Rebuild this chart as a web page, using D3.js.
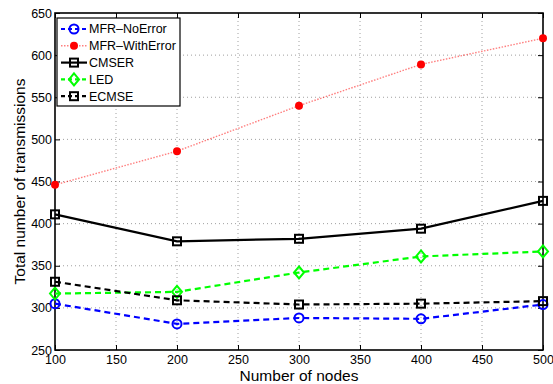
<!DOCTYPE html>
<html>
<head>
<meta charset="utf-8">
<script src="https://cdn.jsdelivr.net/npm/d3@7"></script>
<style>
  body { margin: 0; background: #fff; }
  svg { display: block; font-family: "Liberation Sans", Arial, sans-serif; }
</style>
</head>
<body>
<script>
const width = 553;
const height = 384;

// data
const nodes = [100, 200, 300, 400, 500];
const mfrNoError = [305, 281, 288, 287, 304];
const mfrWithError = [446, 486, 540, 589, 620];
const cmser = [411, 379, 382, 394, 427];
const led = [317, 319, 342, 361, 367];
const ecmse = [331, 309, 304, 305, 308];

const xTicks = [100, 150, 200, 250, 300, 350, 400, 450, 500];
const yTicks = [250, 300, 350, 400, 450, 500, 550, 600, 650];

const series = [
  { name: 'MFR\u2013NoError', values: mfrNoError, color: '#0000ff', dash: '6,4', width: 2.2, marker: 'circle' },
  { name: 'MFR\u2013WithError', values: mfrWithError, color: '#ff0000', dash: '1.5,1.5', width: 1.4, opacity: 0.5, marker: 'dot' },
  { name: 'CMSER', values: cmser, color: '#000000', dash: null, width: 2.2, marker: 'square' },
  { name: 'LED', values: led, color: '#00ff00', dash: '6,4', width: 2.2, marker: 'diamond' },
  { name: 'ECMSE', values: ecmse, color: '#000000', dash: '6,4', width: 2.2, marker: 'square' },
];

const margin = { top: 13, right: 10, bottom: 34, left: 55 };

const x = d3.scaleLinear().domain([100, 500]).range([margin.left, width - margin.right]);
const y = d3.scaleLinear().domain([250, 650]).range([height - margin.bottom, margin.top]);

const svg = d3.select('body').append('svg')
  .attr('width', width)
  .attr('height', height);

// grid
const grid = svg.append('g').attr('stroke', '#888').attr('stroke-width', 0.8).attr('stroke-dasharray', '1,3');
grid.selectAll('.gx').data(xTicks.slice(1, -1)).enter().append('line')
  .attr('x1', d => x(d)).attr('x2', d => x(d))
  .attr('y1', y(250)).attr('y2', y(650));
grid.selectAll('.gy').data(yTicks.slice(1, -1)).enter().append('line')
  .attr('x1', x(100)).attr('x2', x(500))
  .attr('y1', d => y(d)).attr('y2', d => y(d));

// axes (ticks inward, both sides)
const tickLen = 5;
const axB = svg.append('g').attr('transform', `translate(0,${y(250)})`)
  .call(d3.axisBottom(x).tickValues(xTicks).tickSize(-tickLen).tickPadding(5));
const axT = svg.append('g').attr('transform', `translate(0,${y(650)})`)
  .call(d3.axisTop(x).tickValues(xTicks).tickSize(-tickLen).tickFormat(''));
const axL = svg.append('g').attr('transform', `translate(${x(100)},0)`)
  .call(d3.axisLeft(y).tickValues(yTicks).tickSize(-tickLen).tickPadding(3));
const axR = svg.append('g').attr('transform', `translate(${x(500)},0)`)
  .call(d3.axisRight(y).tickValues(yTicks).tickSize(-tickLen).tickFormat(''));

[axB, axT, axL, axR].forEach(a => {
  a.select('.domain').remove();
  a.selectAll('line').attr('stroke', '#000').attr('stroke-width', 1);
  a.selectAll('text').attr('fill', '#000').style('font-size', '12.5px')
    .style('font-family', '"Liberation Sans", Arial, sans-serif');
});

svg.append('rect')
  .attr('x', x(100)).attr('y', y(650))
  .attr('width', x(500) - x(100)).attr('height', y(250) - y(650))
  .attr('fill', 'none').attr('stroke', '#000').attr('stroke-width', 1.6);

// markers
function drawMarker(g, type, color, cx, cy) {
  if (type === 'circle') {
    g.append('circle').attr('cx', cx).attr('cy', cy).attr('r', 4.5)
      .attr('fill', 'none').attr('stroke', color).attr('stroke-width', 2);
  } else if (type === 'dot') {
    g.append('circle').attr('cx', cx).attr('cy', cy).attr('r', 4)
      .attr('fill', color);
  } else if (type === 'square') {
    g.append('rect').attr('x', cx - 4).attr('y', cy - 4).attr('width', 8).attr('height', 8)
      .attr('fill', 'none').attr('stroke', color).attr('stroke-width', 2);
  } else if (type === 'diamond') {
    g.append('path').attr('d', `M${cx},${cy - 6}L${cx + 5},${cy}L${cx},${cy + 6}L${cx - 5},${cy}Z`)
      .attr('fill', 'none').attr('stroke', color).attr('stroke-width', 2);
  }
}

const line = d3.line().x((d, i) => x(nodes[i])).y(d => y(d));

series.forEach(s => {
  const g = svg.append('g');
  g.append('path').datum(s.values)
    .attr('d', line)
    .attr('fill', 'none')
    .attr('stroke', s.color)
    .attr('stroke-width', s.width)
    .attr('stroke-opacity', s.opacity || 1)
    .attr('stroke-dasharray', s.dash);
  s.values.forEach((v, i) => drawMarker(g, s.marker, s.color, x(nodes[i]), y(v)));
});

// legend
const lg = svg.append('g').attr('transform', 'translate(57,18)');
lg.append('rect').attr('width', 123).attr('height', 88)
  .attr('fill', '#fff').attr('stroke', '#000').attr('stroke-width', 1.2);
series.forEach((s, i) => {
  const cy = 11 + i * 16.8;
  lg.append('line').attr('x1', 4).attr('x2', 30).attr('y1', cy).attr('y2', cy)
    .attr('stroke', s.color).attr('stroke-width', s.width)
    .attr('stroke-opacity', s.opacity || 1)
    .attr('stroke-dasharray', s.dash ? (s.marker === 'dot' ? '1.5,1.5' : '4,3') : null);
  drawMarker(lg, s.marker, s.color, 17, cy);
  lg.append('text').attr('x', 32).attr('y', cy).attr('dy', '0.35em')
    .style('font-size', '12.5px').text(s.name);
});

// axis labels
svg.append('text')
  .attr('x', (x(100) + x(500)) / 2).attr('y', 381)
  .attr('text-anchor', 'middle').style('font-size', '15.5px')
  .text('Number of nodes');
svg.append('text')
  .attr('transform', `translate(25,${(y(250) + y(650)) / 2}) rotate(-90)`)
  .attr('text-anchor', 'middle').style('font-size', '15.5px')
  .text('Total number of transmissions');
</script>
</body>
</html>
